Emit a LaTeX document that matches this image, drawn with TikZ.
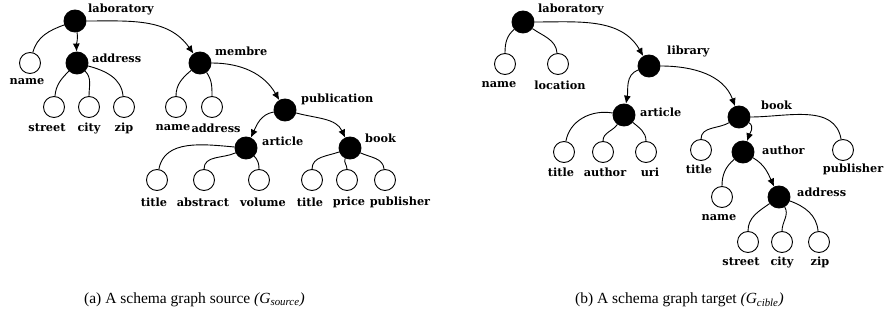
\documentclass[tikz,border=0pt]{standalone}
\usepackage{fontspec}
\setmainfont{Liberation Serif}
\newfontfamily\lblfam{DejaVu Serif}
\usetikzlibrary{arrows.meta}
\tikzset{
  fnode/.style={circle,draw=black,fill=black,minimum size=22pt,inner sep=0pt,line width=0.9pt},
  onode/.style={circle,draw=black,fill=white,minimum size=21pt,inner sep=0pt,line width=0.9pt},
  lbl/.style={font=\lblfam\bfseries\fontsize{11.3}{13}\selectfont,inner sep=0pt},
  edge/.style={line width=0.9pt},
  arr/.style={line width=0.9pt,-{Latex[length=8pt,width=7pt]}},
  capt/.style={font=\fontsize{15.5}{17}\selectfont,inner sep=0pt,anchor=west}
}
\begin{document}
\begin{tikzpicture}[x=1pt,y=-1pt]
\useasboundingbox (0,0) rectangle (884,320);
% ---------------- left graph ----------------
\node[fnode] (a1) at (75,21) {};
\node[lbl,anchor=west] (a1l) at (88,9) {laboratory};
\node[onode] (a2) at (30,63) {};
\node[lbl] (a2l) at (27,82) {name};
\node[fnode] (a3) at (77,63) {};
\node[lbl,anchor=west] (a3l) at (92,58) {address};
\node[onode] (a4) at (54,107) {};
\node[lbl] (a4l) at (47,128) {street};
\node[onode] (a5) at (89,107) {};
\node[lbl] (a5l) at (89,128) {city};
\node[onode] (a6) at (124,107) {};
\node[lbl] (a6l) at (124,128) {zip};
\node[fnode] (a7) at (200,63) {};
\node[lbl,anchor=west] (a7l) at (215,51) {membre};
\node[onode] (a8) at (176,107) {};
\node[lbl] (a8l) at (173,128) {name};
\node[onode] (a9) at (212,107) {};
\node[lbl,fill=white,inner xsep=1pt] (a9l) at (216,128) {address};
\node[fnode] (a10) at (285,110) {};
\node[lbl,anchor=west] (a10l) at (301,99) {publication};
\node[fnode] (a11) at (246,148) {};
\node[lbl,anchor=west] (a11l) at (262,141) {article};
\node[fnode] (a12) at (350,148) {};
\node[lbl,anchor=west] (a12l) at (365,138) {book};
\node[onode] (a13) at (157,180) {};
\node[lbl] (a13l) at (154,202) {title};
\node[onode] (a14) at (204,180) {};
\node[lbl] (a14l) at (203,202) {abstract};
\node[onode] (a15) at (259,180) {};
\node[lbl] (a15l) at (263,202) {volume};
\node[onode] (a16) at (312,180) {};
\node[lbl] (a16l) at (310,202) {title};
\node[onode] (a17) at (347,180) {};
\node[lbl] (a17l) at (349,202) {price};
\node[onode] (a18) at (385,180) {};
\node[lbl] (a18l) at (400,202) {publisher};
\draw[edge] (a1) to[out=200,in=75] (a2);
\draw[arr] (a1) to[out=-80,in=92] (a3);
\draw[arr] (a1) to[out=0,in=125] (a7);
\draw[edge] (a3) to[out=225,in=85] (a4);
\draw[edge] (a3) to[out=-45,in=90] (a5);
\draw[edge] (a3) to[out=-15,in=95] (a6);
\draw[edge] (a7) to[out=220,in=90] (a8);
\draw[edge] (a7) to[out=-55,in=90] (a9);
\draw[arr] (a7) to[out=0,in=120] (a10);
\draw[arr] (a10) to[out=190,in=65] (a11);
\draw[arr] (a10) to[out=-15,in=115] (a12);
\draw[edge] (a11) to[out=175,in=80] (a13);
\draw[edge] (a11) to[out=205,in=90] (a14);
\draw[edge] (a11) to[out=-45,in=90] (a15);
\draw[edge] (a12) to[out=200,in=90] (a16);
\draw[edge] (a12) to[out=245,in=90] (a17);
\draw[edge] (a12) to[out=-25,in=95] (a18);
% ---------------- right graph ----------------
\node[fnode] (b1) at (523,22) {};
\node[lbl,anchor=west] (b1l) at (538,9) {laboratory};
\node[onode] (b2) at (505,64) {};
\node[lbl] (b2l) at (499,85) {name};
\node[onode] (b3) at (558,64) {};
\node[lbl] (b3l) at (560,85) {location};
\node[fnode] (b4) at (649,66) {};
\node[lbl,anchor=west] (b4l) at (667,51) {library};
\node[fnode] (b5) at (624,115) {};
\node[lbl,anchor=west] (b5l) at (640,112) {article};
\node[onode] (b6) at (564,152) {};
\node[lbl] (b6l) at (561,172) {title};
\node[onode] (b7) at (603,152) {};
\node[lbl] (b7l) at (605,172) {author};
\node[onode] (b8) at (646,152) {};
\node[lbl] (b8l) at (650,172) {uri};
\node[fnode] (b9) at (739,117) {};
\node[lbl,anchor=west] (b9l) at (761,105) {book};
\node[onode] (b10) at (701,150) {};
\node[lbl] (b10l) at (699,169) {title};
\node[fnode] (b11) at (743,152) {};
\node[lbl,anchor=west] (b11l) at (762,150) {author};
\node[onode] (b12) at (843,150) {};
\node[lbl,anchor=east] (b12l) at (883.5,169) {publisher};
\node[onode] (b13) at (722,197) {};
\node[lbl] (b13l) at (719,218) {name};
\node[fnode] (b14) at (779,197) {};
\node[lbl,anchor=west] (b14l) at (797,192) {address};
\node[onode] (b15) at (748,242) {};
\node[lbl] (b15l) at (741,262) {street};
\node[onode] (b16) at (782,242) {};
\node[lbl] (b16l) at (782,262) {city};
\node[onode] (b17) at (819,242) {};
\node[lbl] (b17l) at (820,262) {zip};
\draw[edge] (b1) to[out=220,in=90] (b2);
\draw[edge] (b1) to[out=-35,in=95] (b3);
\draw[arr] (b1) to[out=0,in=120] (b4);
\draw[arr] (b4) to[out=200,in=80] (b5);
\draw[arr] (b4) to[out=0,in=110] (b9);
\draw[edge] (b5) to[out=170,in=80] (b6);
\draw[edge] (b5) to[out=235,in=90] (b7);
\draw[edge] (b5) to[out=-40,in=90] (b8);
\draw[edge] (b9) to[out=210,in=90] (b10);
\draw[arr] (b9) to[out=-30,in=70] (b11);
\draw[edge] (b9) to[out=0,in=100] (b12);
\draw[edge] (b11) to[out=220,in=90] (b13);
\draw[arr] (b11) to[out=-30,in=115] (b14);
\draw[edge] (b14) to[out=215,in=90] (b15);
\draw[edge] (b14) to[out=-60,in=90] (b16);
\draw[edge] (b14) to[out=-20,in=95] (b17);
% ---------------- captions ----------------
\node[capt] (capa) at (84,300) {(a) A schema graph source {\itshape(G\textsubscript{source})}};
\node[capt] (capb) at (575,300) {(b) A schema graph target {\itshape(G\textsubscript{cible})}};
\end{tikzpicture}
\end{document}
